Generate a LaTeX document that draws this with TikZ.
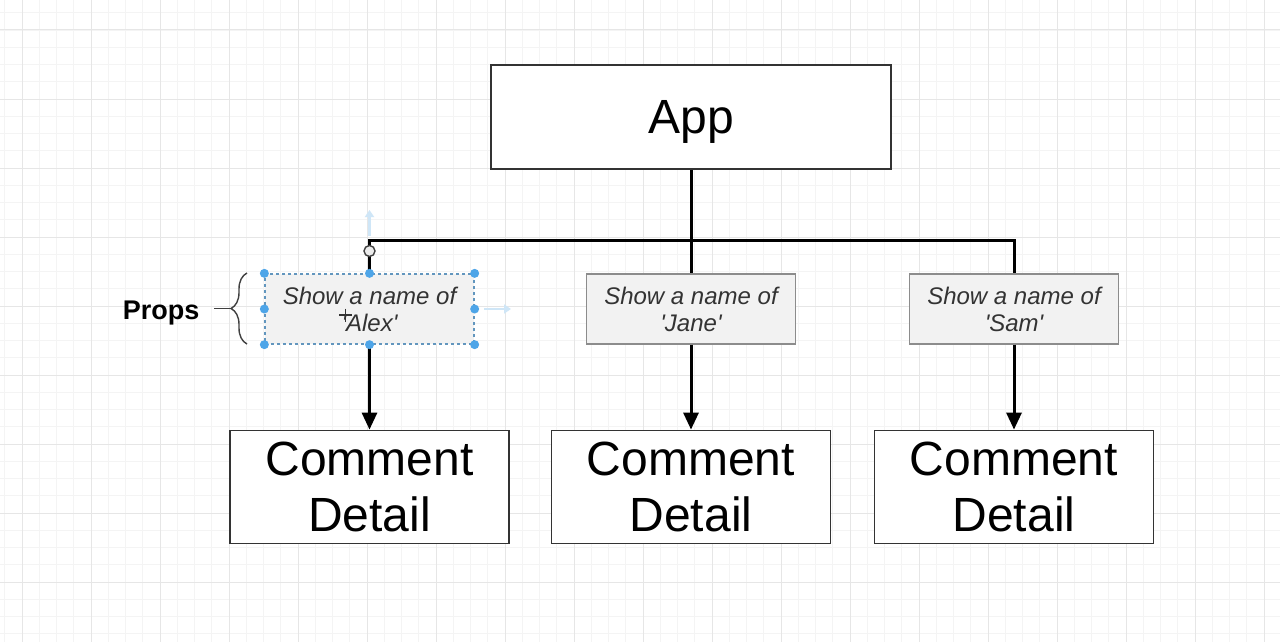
\documentclass[tikz,border=0pt]{standalone}
\usepackage{fontspec}
\setmainfont{Liberation Sans}
\usetikzlibrary{arrows.meta,decorations.pathreplacing}
\definecolor{gridminor}{HTML}{F4F4F4}
\definecolor{gridmajor}{HTML}{E6E6E6}
\definecolor{propfill}{HTML}{F2F2F2}
\definecolor{propdraw}{HTML}{8C8C8C}
\definecolor{seltint}{HTML}{4EA5E8}
\definecolor{selfaint}{HTML}{CFE6F7}
\newcommand{\sq}{\textquotesingle}
\tikzset{
  mainbox/.style={draw=black!80, line width=1.8pt, fill=white, inner sep=0pt, align=center, font=\fontsize{48}{56}\selectfont},
  propbox/.style={draw=propdraw, line width=1.3pt, fill=propfill, inner sep=0pt, minimum width=209pt, minimum height=70pt, align=center, text=black!80, font=\fontsize{24}{27}\selectfont\itshape},
  wire/.style={line width=3pt, black},
  arrowwire/.style={wire, -{Triangle[length=17pt,width=15pt]}},
  handle/.style={circle, fill=seltint, inner sep=0pt, minimum size=9pt},
}
\begin{document}
\begin{tikzpicture}[x=1pt,y=-1pt]
\useasboundingbox (0,0) rectangle (1280,642);
\fill[white] (0,0) rectangle (1280,642);
% grid
\foreach \i in {0,...,75} {
  \draw[gridminor, line width=0.8pt] ({4.75+17.25*\i},0) -- ({4.75+17.25*\i},642);
}
\foreach \i in {0,...,38} {
  \draw[gridminor, line width=0.8pt] (0,{12.75+17.25*\i}) -- (1280,{12.75+17.25*\i});
}
\foreach \i in {0,...,18} {
  \draw[gridmajor, line width=1pt] ({22+69*\i},0) -- ({22+69*\i},642);
}
\foreach \i in {0,...,9} {
  \draw[gridmajor, line width=1pt] (0,{30+69*\i}) -- (1280,{30+69*\i});
}
% nodes
\node[mainbox, minimum width=400pt, minimum height=104pt, text depth=0pt] (app) at (691,117) {App};
\node[propbox, draw=seltint!60!gray, dashed] (alex) at (369.5,309) {Show a name of\\\sq Alex\sq};
\node[propbox] (jane) at (691,309) {Show a name of\\\sq Jane\sq};
\node[propbox] (sam) at (1014,309) {Show a name of\\\sq Sam\sq};
\node[mainbox, minimum width=279pt, minimum height=113pt] (c1) at (369.5,487) {Comment\\Detail};
\node[mainbox, minimum width=279pt, minimum height=113pt] (c2) at (691,487) {Comment\\Detail};
\node[mainbox, minimum width=279pt, minimum height=113pt] (c3) at (1014,487) {Comment\\Detail};
\node[font=\fontsize{27}{30}\selectfont\bfseries, anchor=east] (props) at (203,313) {Props};
% connectors
\coordinate (barL) at (369.5,240);
\coordinate (barR) at (1014,240);
\coordinate (jn) at (app.south |- barL);
\draw[wire] (app.south) -- (jn);
\draw[wire, line cap=rect] (barL) -- (barR);
\draw[wire] (barL) -- (alex.north);
\draw[wire] (jn) -- (jane.north);
\draw[wire] (barR) -- (sam.north);
\draw[arrowwire] (alex.south) -- (c1.north);
\draw[arrowwire] (jane.south) -- (c2.north);
\draw[arrowwire] (sam.south) -- (c3.north);
% selection decorations
\draw[line width=1.4pt, black!75, fill=white!85!gray] (369.5,251) circle (5.5pt);
\draw[selfaint, line width=2.5pt, -{Triangle[length=7pt,width=9pt]}] (369.5,236) -- (369.5,210);
\draw[selfaint, line width=2.5pt, -{Triangle[length=7pt,width=9pt]}] (484,309) -- (511,309);
\foreach \a in {north west,north,north east,west,east,south west,south,south east} {
  \node[handle] at (alex.\a) {};
}
\draw[black!80, line width=1.6pt] (339,315) -- (352,315) (345.5,308.5) -- (345.5,321.5);
% brace
\draw[black!75, line width=1.4pt, decorate, decoration={brace, amplitude=16pt}] (247,344) -- (247,273);
\draw[black!75, line width=1.4pt] (214,308.5) -- (231,308.5);
\end{tikzpicture}
\end{document}
